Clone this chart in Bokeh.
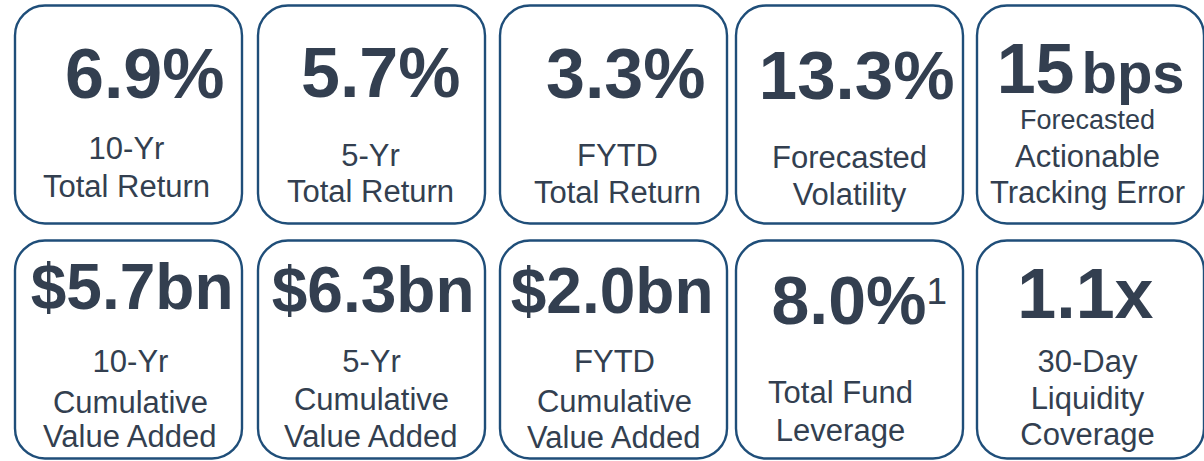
from bokeh.plotting import figure
from bokeh.models import Range1d, ColumnDataSource
from bokeh.core.properties import value
from bokeh.embed import file_html
from bokeh.resources import INLINE

# ---------------- data ----------------
metric_values = ["6.9%", "5.7%", "3.3%", "13.3%", "15",
                 "$5.7bn", "$6.3bn", "$2.0bn", "8.0%", "1.1x"]
metric_units = ["", "", "", "", "bps", "", "", "", "", ""]
metric_notes = ["", "", "", "", "", "", "", "", "1", ""]
metric_labels = [
    ["10-Yr", "Total Return"],
    ["5-Yr", "Total Return"],
    ["FYTD", "Total Return"],
    ["Forecasted", "Volatility"],
    ["Forecasted", "Actionable", "Tracking Error"],
    ["10-Yr", "Cumulative", "Value Added"],
    ["5-Yr", "Cumulative", "Value Added"],
    ["FYTD", "Cumulative", "Value Added"],
    ["Total Fund", "Leverage"],
    ["30-Day", "Liquidity", "Coverage"],
]

# ---------------- layout (reference pixel space) ----------------
col_centers = [128, 371, 613, 849, 1090]
row_tops = [5, 240]
tile_w, tile_h, radius = 227, 218, 30

value_right = [224, 460, 705, 954, 1074, 233, 474, 713, 926, 1153]
value_base = [99, 98, 99, 100, 93, 310, 313, 314, 324, 319]
value_size = [70, 70, 70, 69, 70, 64, 64, 64, 68, 70]
unit_gap, unit_size = 7, 58
note_gap, note_base, note_size = 0, 304, 37
label_cx = [126, 370, 617, 849, 1087, 130, 371, 614, 840, 1087]
label_bases = [[159, 197], [166, 202], [166, 203], [168, 205], [129, 167, 203],
               [372, 413, 447], [372, 410, 447], [372, 412, 448], [403, 441], [372, 409, 445]]
label_sizes = [[31, 31], [31, 31], [31, 31], [31, 31], [27, 31, 31],
               [31, 31, 31], [31, 31, 31], [31, 31, 31], [31, 31], [31, 31, 31]]
BASE_K = 0.36  # renderer places text ~0.36em below requested baseline

TEXT = "#333F50"
EDGE = "#1F4E79"
FONT = value("Liberation Sans")


def by(base, size):
    return base - BASE_K * size


p = figure(width=1204, height=461, x_range=Range1d(0, 1204), y_range=Range1d(461, 0),
           output_backend="svg", toolbar_location=None, min_border=0)
p.axis.visible = False
p.grid.visible = False
p.outline_line_color = None
p.background_fill_color = "white"
p.border_fill_color = "white"

n = len(metric_values)
lefts, rights, tops, bottoms = [], [], [], []
for i in range(n):
    r, c = divmod(i, 5)
    lefts.append(col_centers[c] - tile_w / 2)
    rights.append(col_centers[c] + tile_w / 2)
    tops.append(row_tops[r])
    bottoms.append(row_tops[r] + tile_h)

p.quad(left=lefts, right=rights, top=tops, bottom=bottoms, border_radius=radius,
       fill_color="white", line_color=EDGE, line_width=2.4)

# main values
src_v = ColumnDataSource(dict(x=value_right,
                              y=[by(b, s) for b, s in zip(value_base, value_size)],
                              t=metric_values, s=[f"{v}px" for v in value_size]))
p.text(x="x", y="y", text="t", source=src_v, text_font=FONT, text_font_style="bold",
       text_font_size="s", text_color=TEXT, text_align="right", text_baseline="alphabetic")

# units (e.g. bps) and footnote markers
ux, uy, ut = [], [], []
nx, ny, nt = [], [], []
for i in range(n):
    if metric_units[i]:
        ux.append(value_right[i] + unit_gap); uy.append(by(value_base[i], unit_size))
        ut.append(metric_units[i])
    if metric_notes[i]:
        nx.append(value_right[i] + note_gap); ny.append(by(note_base, note_size))
        nt.append(metric_notes[i])
p.text(x=ux, y=uy, text=ut, text_font=FONT, text_font_style="bold",
       text_font_size=f"{unit_size}px", text_color=TEXT, text_align="left",
       text_baseline="alphabetic")
p.text(x=nx, y=ny, text=nt, text_font=FONT, text_font_style="normal",
       text_font_size=f"{note_size}px", text_color=TEXT, text_align="left",
       text_baseline="alphabetic")

# labels
lx, ly, lt, ls = [], [], [], []
for i in range(n):
    for line, base, size in zip(metric_labels[i], label_bases[i], label_sizes[i]):
        lx.append(label_cx[i]); ly.append(by(base, size)); lt.append(line); ls.append(f"{size}px")
src_l = ColumnDataSource(dict(x=lx, y=ly, t=lt, s=ls))
p.text(x="x", y="y", text="t", source=src_l, text_font=FONT, text_font_size="s",
       text_color=TEXT, text_align="center", text_baseline="alphabetic")

open("out.html", "w").write(file_html(p, INLINE))
